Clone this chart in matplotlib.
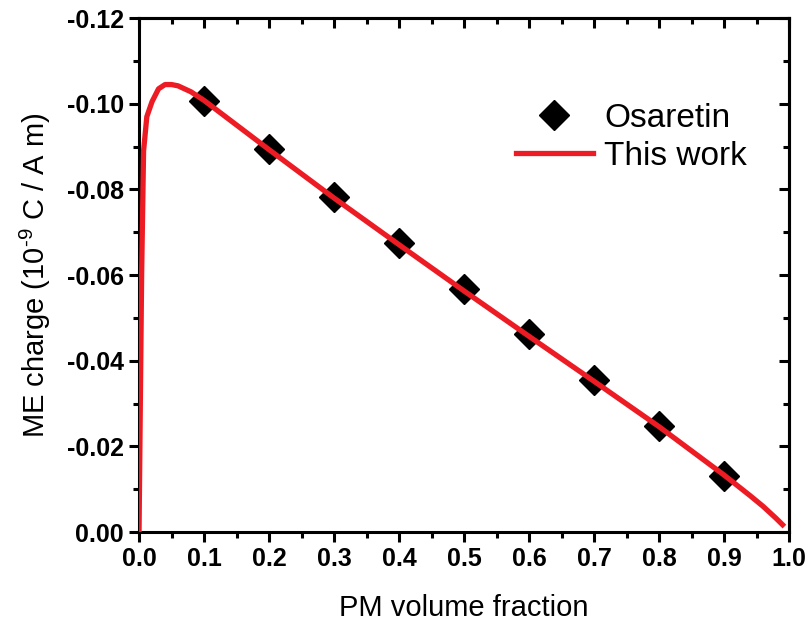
import matplotlib.pyplot as plt
from matplotlib.ticker import MultipleLocator, FormatStrFormatter

plt.rcParams["font.family"] = ["Liberation Sans", "DejaVu Sans"]
plt.rcParams["mathtext.fontset"] = "custom"
plt.rcParams["mathtext.rm"] = "Liberation Sans"
plt.rcParams["mathtext.default"] = "regular"

# measured points (Osaretin)
osa_x = [0.1, 0.2, 0.3, 0.4, 0.5, 0.6, 0.7, 0.8, 0.9]
osa_y = [-0.1006, -0.0894, -0.0782, -0.0675, -0.0568, -0.0462, -0.0355, -0.0247, -0.0131]

# model curve (This work)
work_x = [0.0, 0.004, 0.007, 0.012, 0.02, 0.03, 0.04, 0.05, 0.06, 0.08, 0.1,
          0.2, 0.3, 0.4, 0.5, 0.6, 0.7, 0.8, 0.9, 0.92, 0.94, 0.96, 0.98, 0.99]
work_y = [0.0, -0.060, -0.089, -0.097, -0.1005, -0.1035, -0.1045, -0.1045,
          -0.1042, -0.1028, -0.1008, -0.0893, -0.0780, -0.0671, -0.0563,
          -0.0457, -0.0352, -0.0246, -0.0133, -0.0109, -0.0085, -0.0060,
          -0.0032, -0.0017]

RED = "#ed1c24"

fig = plt.figure(figsize=(8.05, 6.27), dpi=100)
ax = fig.add_axes([0.1727, 0.1515, 0.8075, 0.8195])

ax.plot(osa_x, osa_y, "D", color="black", markersize=15, label="Osaretin", zorder=2)
ax.plot(work_x, work_y, "-", color=RED, linewidth=3.8, label="This work", zorder=3)

ax.set_xlim(0, 1.0)
ax.set_ylim(0.0, -0.12)
ax.xaxis.set_major_locator(MultipleLocator(0.1))
ax.xaxis.set_minor_locator(MultipleLocator(0.05))
ax.yaxis.set_major_locator(MultipleLocator(0.02))
ax.yaxis.set_minor_locator(MultipleLocator(0.01))
ax.xaxis.set_major_formatter(FormatStrFormatter("%.1f"))
ax.yaxis.set_major_formatter(FormatStrFormatter("%.2f"))

for s in ax.spines.values():
    s.set_linewidth(2.2)

ax.tick_params(which="both", direction="out", width=2.2, top=False, right=False)
ax.tick_params(which="major", length=7, labelsize=18, pad=4)
ax.tick_params(which="minor", length=4)
for lab in ax.get_xticklabels() + ax.get_yticklabels():
    lab.set_fontweight("bold")

# inward ticks on top and right, no labels
sec_x = ax.secondary_xaxis("top")
sec_x.xaxis.set_major_locator(MultipleLocator(0.1))
sec_x.xaxis.set_minor_locator(MultipleLocator(0.05))
sec_x.tick_params(which="both", direction="in", width=2.2, labeltop=False)
sec_x.tick_params(which="major", length=7)
sec_x.tick_params(which="minor", length=4)
sec_x.spines["top"].set_linewidth(2.2)
sec_y = ax.secondary_yaxis("right")
sec_y.yaxis.set_major_locator(MultipleLocator(0.02))
sec_y.yaxis.set_minor_locator(MultipleLocator(0.01))
sec_y.tick_params(which="both", direction="in", width=2.2, labelright=False)
sec_y.tick_params(which="major", length=7)
sec_y.tick_params(which="minor", length=4)
sec_y.spines["right"].set_linewidth(2.2)

ax.set_xlabel("PM volume fraction", fontsize=21, labelpad=16)
ax.set_ylabel(r"ME charge (10$^{\text{-9}}$ C / A m)", fontsize=21, labelpad=10)

ax.legend(loc="upper left", bbox_to_anchor=(0.58, 0.835), frameon=False,
          fontsize=24, handlelength=2.3, handletextpad=0.35, labelspacing=0.2,
          borderpad=0, borderaxespad=0)

fig.savefig("out.png", dpi=100)
